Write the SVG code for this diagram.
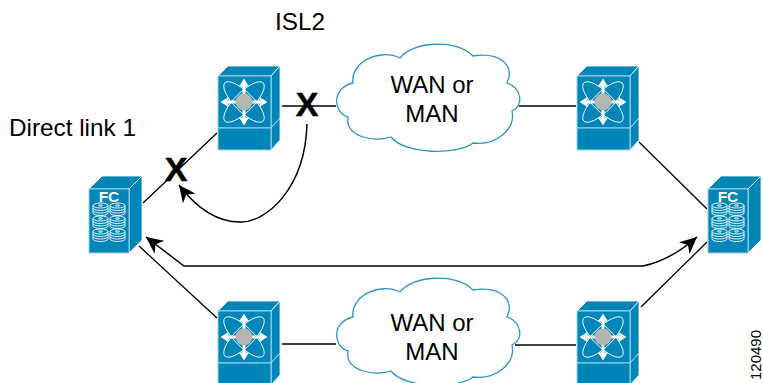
<svg xmlns="http://www.w3.org/2000/svg" width="763" height="383" viewBox="0 0 763 383">
<style>
text{font-family:"Liberation Sans",Arial,sans-serif;fill:#000}
.l{font-size:24.300px}
.c{font-size:24px;text-anchor:middle}
.x{font-size:34px;font-weight:bold;text-anchor:middle;stroke:#000;stroke-width:.5}
.ln{fill:none;stroke:#000;stroke-width:1.3}
.cv{fill:none;stroke:#000;stroke-width:1.5}
.b{fill:#0085b8;stroke:#fff;stroke-width:.8}
.f{fill:#0085b8;stroke:#9fd4e8;stroke-width:1}
.w{fill:none;stroke:#fff;stroke-width:.9}
.cl{fill:#fff;stroke:#2b96c6;stroke-width:1.3}
</style>
<defs>
<marker id="a" markerWidth="18" markerHeight="16" refX="17" refY="8" orient="auto-start-reverse" markerUnits="userSpaceOnUse"><path d="M0 0L17 8L0 16L5 8Z" fill="#000"/></marker>
<g id="sw">
<path class="b" d="M0 0L10-10H62L53 0Z"/>
<path class="b" d="M53 0L62-10V64L53 74Z"/>
<path class="b" d="M53 52L62 42"/>
<rect class="f" x="0" y="0" width="53" height="52"/>
<rect class="f" x="0" y="52" width="53" height="22"/>
<g class="w"><ellipse cx="26" cy="26" rx="27" ry="9.500" transform="rotate(45 26 26)"/><ellipse cx="26" cy="26" rx="27" ry="9.500" transform="rotate(-45 26 26)"/></g>
<path d="M26 2.500l5 8h-3.500v14h14V21l8 5-8 5v-3.500h-14v14H31l-5 8-5-8h3.500v-14h-14V31l-8-5 8-5v3.500h14v-14H21Z" fill="#fff"/>
<circle cx="26" cy="26" r="8.500" fill="#b5b5b5"/>
</g>
<g id="dk"><g class="w"><ellipse cx="7.500" cy="2.500" rx="7.500" ry="2.500"/><ellipse cx="7.500" cy="2.500" rx="2" ry=".7"/><path d="M0 2.500v2.500a7.500 2.500 0 0 0 15 0V2.500M0 5v2.500a7.500 2.500 0 0 0 15 0V5M0 7.500v2.500a7.500 2.500 0 0 0 15 0V7.500"/></g></g>
<g id="fc">
<path class="b" d="M0 0L13-13H53L40 0Z"/>
<path class="b" d="M40 0L53-13V51L40 64Z"/>
<rect class="f" x="0" y="0" width="40" height="64"/>
<text x="20" y="12.500" font-size="15.500" font-weight="bold" text-anchor="middle" style="fill:#fff">FC</text>
<use href="#dk" x="4" y="14"/><use href="#dk" x="21" y="14"/>
<use href="#dk" x="4" y="27"/><use href="#dk" x="21" y="27"/>
<use href="#dk" x="4" y="40"/><use href="#dk" x="21" y="40"/>
</g>
<path id="cl" class="cl" d="M348 117C333 113 331 88 353 83C350 62 380 48 400 58C412 42 455 38 473 56C500 52 515 65 507 83C522 88 524 106 512 111C516 130 495 146 473 143C458 155 405 155 391 137C375 142 345 138 348 117Z"/>
</defs>
<g id="connectors">
<path class="ln" d="M143 203L217 133"/>
<path class="ln" d="M282 106H336"/>
<path class="ln" d="M519 106H576"/>
<path class="ln" d="M639 142L707 209"/>
<path class="ln" d="M139 246L217 318"/>
<path class="ln" d="M282 344H336"/>
<path class="ln" d="M515 345H576"/>
<path class="ln" d="M641 307L707 242"/>
<path class="cv" marker-end="url(#a)" d="M307 124C305 190 265 223 240 222C215 222 195 206 179 185"/>
<path class="cv" marker-start="url(#a)" marker-end="url(#a)" d="M146 237L184 266H643C662 262 680 252 697 237"/>
</g>
<g id="cloud-top"><use href="#cl"/><text class="c" x="432" y="93">WAN or</text><text class="c" x="432" y="122">MAN</text></g>
<g id="cloud-bottom"><use href="#cl" y="234"/><text class="c" x="432" y="331">WAN or</text><text class="c" x="432" y="360">MAN</text></g>
<g id="switch-tl"><use href="#sw" x="218" y="76"/></g>
<g id="switch-tr"><use href="#sw" x="577" y="76"/></g>
<g id="switch-bl"><use href="#sw" x="218" y="311"/></g>
<g id="switch-br"><use href="#sw" x="577" y="311"/></g>
<g id="fc-left"><use href="#fc" x="89" y="189"/></g>
<g id="fc-right"><use href="#fc" x="708" y="189"/></g>
<text class="l" x="275" y="30">ISL2</text>
<text class="l" x="9" y="136">Direct link 1</text>
<text class="x" x="307" y="116">X</text>
<text class="x" x="176" y="181">X</text>
<text x="0" y="0" font-size="15" transform="translate(761 380) rotate(-90)">120490</text>
</svg>
